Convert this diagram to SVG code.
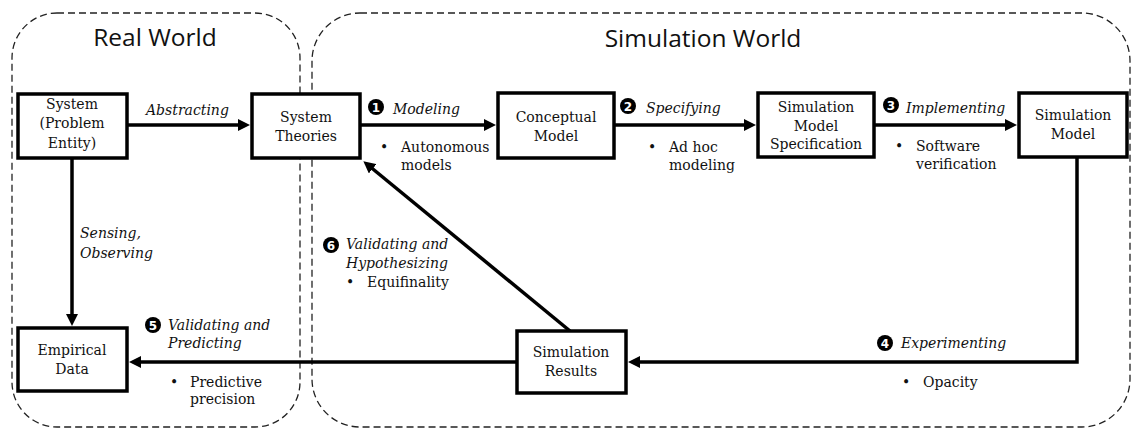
<svg xmlns="http://www.w3.org/2000/svg" width="1132" height="428" viewBox="0 0 1132 428">
<style>
.world{fill:none;stroke:#222;stroke-width:1.3;stroke-dasharray:7 4}
.title{font-family:"Open Sans","Noto Sans",sans-serif;font-size:24.5px;fill:#111;text-anchor:middle}
.box{fill:#fff;stroke:#000;stroke-width:3.5}
.nt{font-family:"DejaVu Serif","Liberation Serif",serif;font-size:14px;fill:#111;text-anchor:middle}
.lbl{font-family:"DejaVu Serif","Liberation Serif",serif;font-size:14px;font-style:italic;fill:#111}
.txt{font-family:"DejaVu Serif","Liberation Serif",serif;font-size:14px;fill:#111}
.num{fill:#000}
.numt{font-family:"DejaVu Sans","Liberation Sans",sans-serif;font-size:12px;font-weight:bold;fill:#fff;text-anchor:middle}
.conn{fill:none;stroke:#000;stroke-width:3.5}
</style>
<defs>
<marker id="ah" viewBox="0 0 10 10" refX="5" refY="5" markerWidth="12" markerHeight="12" markerUnits="userSpaceOnUse" orient="auto">
<path d="M0,0 L10,5 L0,10 z" fill="#000"/>
</marker>
</defs>

<g id="real-world">
<rect class="world" x="12" y="13" width="288" height="414" rx="45"/>
<text class="title" x="155" y="46">Real World</text>
</g>
<g id="simulation-world">
<rect class="world" x="312" y="13" width="818" height="414" rx="48"/>
<text class="title" x="703" y="47">Simulation World</text>
</g>

<g id="connectors">
<line class="conn" x1="127" y1="125" x2="244" y2="125" marker-end="url(#ah)"/>
<line class="conn" x1="360" y1="125" x2="490" y2="125" marker-end="url(#ah)"/>
<line class="conn" x1="614" y1="125" x2="750" y2="125" marker-end="url(#ah)"/>
<line class="conn" x1="874" y1="125" x2="1011" y2="125" marker-end="url(#ah)"/>
<path class="conn" d="M1077,157 V362 H634" marker-end="url(#ah)"/>
<line class="conn" x1="517" y1="362" x2="135" y2="362" marker-end="url(#ah)"/>
<line class="conn" x1="72" y1="158" x2="72" y2="320" marker-end="url(#ah)"/>
<line class="conn" x1="570" y1="331" x2="368" y2="165" marker-end="url(#ah)"/>

<text class="lbl" x="146" y="115">Abstracting</text>

<circle class="num" cx="376" cy="107" r="8"/><text class="numt" x="376" y="111.5">1</text>
<text class="lbl" x="393" y="114">Modeling</text>
<text class="txt" x="380" y="152">•</text>
<text class="txt" x="401" y="152">Autonomous</text>
<text class="txt" x="401" y="170">models</text>

<circle class="num" cx="628" cy="106" r="8"/><text class="numt" x="628" y="110.5">2</text>
<text class="lbl" x="646" y="113">Specifying</text>
<text class="txt" x="648" y="152">•</text>
<text class="txt" x="669" y="152">Ad hoc</text>
<text class="txt" x="669" y="170">modeling</text>

<circle class="num" cx="891" cy="105" r="8"/><text class="numt" x="891" y="109.5">3</text>
<text class="lbl" x="906" y="113">Implementing</text>
<text class="txt" x="895" y="151">•</text>
<text class="txt" x="916" y="151">Software</text>
<text class="txt" x="916" y="169">verification</text>

<circle class="num" cx="885" cy="343" r="8"/><text class="numt" x="885" y="347.5">4</text>
<text class="lbl" x="901" y="348">Experimenting</text>
<text class="txt" x="902" y="387">•</text>
<text class="txt" x="923" y="387">Opacity</text>

<circle class="num" cx="153" cy="325" r="8"/><text class="numt" x="153" y="329.5">5</text>
<text class="lbl" x="168" y="330">Validating and</text>
<text class="lbl" x="168" y="348">Predicting</text>
<text class="txt" x="170" y="387">•</text>
<text class="txt" x="190" y="387">Predictive</text>
<text class="txt" x="190" y="404">precision</text>

<circle class="num" cx="331" cy="245" r="8"/><text class="numt" x="331" y="249.5">6</text>
<text class="lbl" x="346" y="249">Validating and</text>
<text class="lbl" x="346" y="268">Hypothesizing</text>
<text class="txt" x="346" y="287">•</text>
<text class="txt" x="367" y="287">Equifinality</text>

<text class="lbl" x="80" y="238">Sensing,</text>
<text class="lbl" x="80" y="258">Observing</text>
</g>

<g id="system">
<rect class="box" x="18" y="94" width="109" height="64"/>
<text class="nt" x="72" y="109">System</text>
<text class="nt" x="72" y="128">(Problem</text>
<text class="nt" x="72" y="148">Entity)</text>
</g>
<g id="system-theories">
<rect class="box" x="252" y="94" width="108" height="64"/>
<text class="nt" x="306" y="122">System</text>
<text class="nt" x="306" y="141">Theories</text>
</g>
<g id="conceptual-model">
<rect class="box" x="498" y="93" width="116" height="65"/>
<text class="nt" x="556" y="122">Conceptual</text>
<text class="nt" x="556" y="141">Model</text>
</g>
<g id="simulation-model-specification">
<rect class="box" x="758" y="93" width="116" height="64"/>
<text class="nt" x="816" y="112">Simulation</text>
<text class="nt" x="816" y="131">Model</text>
<text class="nt" x="816" y="149">Specification</text>
</g>
<g id="simulation-model">
<rect class="box" x="1019" y="93" width="108" height="64"/>
<text class="nt" x="1073" y="120">Simulation</text>
<text class="nt" x="1073" y="139">Model</text>
</g>
<g id="empirical-data">
<rect class="box" x="18" y="328" width="109" height="63"/>
<text class="nt" x="72" y="355">Empirical</text>
<text class="nt" x="72" y="374">Data</text>
</g>
<g id="simulation-results">
<rect class="box" x="517" y="331" width="109" height="62"/>
<text class="nt" x="571" y="357">Simulation</text>
<text class="nt" x="571" y="376">Results</text>
</g>
</svg>
